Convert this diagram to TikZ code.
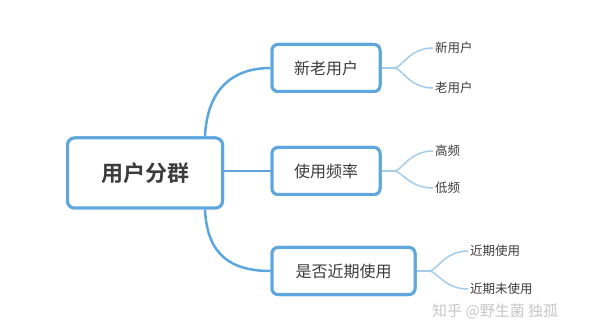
\documentclass[tikz,border=0pt]{standalone}
\usepackage{fontspec}
\newfontfamily\cjk{Noto Sans CJK SC}
\newfontfamily\cjkb{Noto Sans CJK SC Bold}
\usetikzlibrary{calc}
\definecolor{boxblue}{RGB}{93,166,222}
\definecolor{leafblue}{RGB}{165,205,235}
\definecolor{txt}{RGB}{60,60,60}
\begin{document}
\begin{tikzpicture}[x=1pt,y=-1pt,
  rootbox/.style={draw=boxblue,line width=3pt,rounded corners=7pt,fill=white,
    minimum width=155pt,minimum height=70pt,text=txt,font=\cjkb\fontsize{22}{24}\selectfont},
  midbox/.style={draw=boxblue,line width=3pt,rounded corners=6pt,fill=white,
    minimum height=47pt,text=txt,font=\cjk\fontsize{16}{18}\selectfont},
  leaf/.style={anchor=west,inner sep=2pt,text=txt,font=\cjk\fontsize{12.5}{14}\selectfont},
  mainline/.style={draw=boxblue,line width=2.5pt},
  leafline/.style={draw=leafblue,line width=1.5pt}]
\useasboundingbox (0,0) rectangle (600,331);
\fill[white] (0,0) rectangle (600,331);
% main nodes
\node[rootbox] (root) at (145,173) {用户分群};
\node[midbox,minimum width=108pt] (b1) at (326,68) {新老用户};
\node[midbox,minimum width=108pt] (b2) at (326,171) {使用频率};
\node[midbox,minimum width=143pt] (b3) at (343.5,271) {是否近期使用};
% leaves
\node[leaf] (l1a) at (433,48) {新用户};
\node[leaf] (l1b) at (433,88) {老用户};
\node[leaf] (l2a) at (433,151) {高频};
\node[leaf] (l2b) at (433,188) {低频};
\node[leaf] (l3a) at (468,251) {近期使用};
\node[leaf] (l3b) at (468,289) {近期未使用};
% split points
\coordinate (s1) at (394,68);
\coordinate (s2) at (394,171);
\coordinate (s3) at (429,271);
\coordinate (r1) at ($(root.north east)+(-19,0)$);
\coordinate (r3) at ($(root.south east)+(-19,0)$);
% main connectors
\path[mainline] (r1) .. controls ($(r1)+(2,-45)$) and ($(b1.west)+(-40,0)$) .. (b1.west);
\path[mainline] (root.east |- b2.west) -- (b2.west);
\path[mainline] (r3) .. controls ($(r3)+(2,45)$) and ($(b3.west)+(-40,0)$) .. (b3.west);
% leaf connectors
\path[leafline] (b1.east) -- (s1);
\path[leafline] (s1) .. controls ($(s1)+(8,0)$) and ($(l1a.west)+(-24,0)$) .. (l1a.west);
\path[leafline] (s1) .. controls ($(s1)+(8,0)$) and ($(l1b.west)+(-24,0)$) .. (l1b.west);
\path[leafline] (b2.east) -- (s2);
\path[leafline] (s2) .. controls ($(s2)+(8,0)$) and ($(l2a.west)+(-24,0)$) .. (l2a.west);
\path[leafline] (s2) .. controls ($(s2)+(8,0)$) and ($(l2b.west)+(-24,0)$) .. (l2b.west);
\path[leafline] (b3.east) -- (s3);
\path[leafline] (s3) .. controls ($(s3)+(8,0)$) and ($(l3a.west)+(-24,0)$) .. (l3a.west);
\path[leafline] (s3) .. controls ($(s3)+(8,0)$) and ($(l3b.west)+(-24,0)$) .. (l3b.west);
% redraw boxes on top
\node[rootbox] at (root) {用户分群};
\node[midbox,minimum width=108pt] at (b1) {新老用户};
\node[midbox,minimum width=108pt] at (b2) {使用频率};
\node[midbox,minimum width=143pt] at (b3) {是否近期使用};
% watermark
\node[anchor=west,inner sep=0pt,text=black!22,font=\cjk\fontsize{15}{16}\selectfont] (wm) at (432,311) {知乎 @野生菌 独孤};
\end{tikzpicture}
\end{document}
